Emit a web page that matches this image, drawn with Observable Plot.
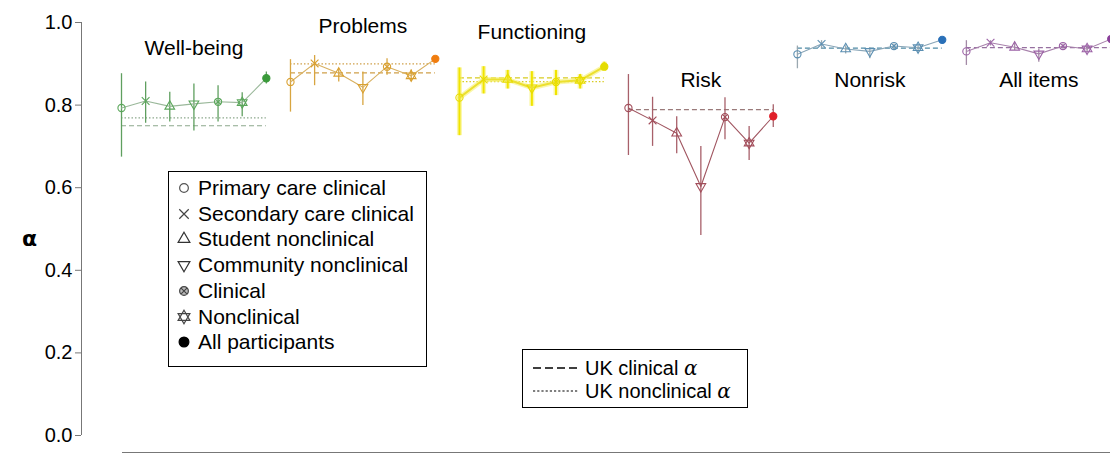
<!DOCTYPE html>
<html><head><meta charset="utf-8">
<script src="https://cdn.jsdelivr.net/npm/d3@7"></script>
<script src="https://cdn.jsdelivr.net/npm/@observablehq/plot@0.6"></script>
<style>
body{margin:0;background:#fff;font-family:"Liberation Sans",Arial,sans-serif;}
#wrap{position:relative;width:1110px;height:454px;overflow:hidden;background:#fff;}
#wrap svg{display:block;}
[aria-label="y-axis tick"]{stroke:#777;}
.leg{position:absolute;border:1px solid #000;background:#fff;box-sizing:border-box;color:#000;}
.row{display:flex;align-items:center;white-space:nowrap;}
#ylab{position:absolute;left:22px;top:226px;font-size:22px;font-weight:bold;font-family:"DejaVu Sans",sans-serif;}
#bottomline{position:absolute;left:122px;right:0;top:452px;border-top:1px solid #777;}
</style></head>
<body><div id="wrap"></div>
<script>
// ---------- data ----------
const panels = ["Well-being","Problems","Functioning","Risk","Nonrisk","All items"];
const groups = ["Primary care clinical","Secondary care clinical","Student nonclinical","Community nonclinical","Clinical","Nonclinical","All participants"];
const estimate = [
  [0.793,0.810,0.797,0.803,0.808,0.806,0.865],
  [0.856,0.901,0.877,0.843,0.893,0.871,0.912],
  [0.818,0.862,0.862,0.842,0.856,0.860,0.893],
  [0.793,0.763,0.732,0.603,0.771,0.708,0.773],
  [0.923,0.948,0.936,0.930,0.943,0.939,0.958],
  [0.930,0.951,0.940,0.924,0.943,0.936,0.960]
];
const lower = [
  [0.674,0.756,0.759,0.737,0.759,0.772,0.851],
  [0.783,0.847,0.856,0.799,0.872,0.858,0.907],
  [0.726,0.827,0.839,0.797,0.823,0.839,0.884],
  [0.678,0.700,0.682,0.484,0.716,0.666,0.746],
  [0.888,0.936,0.924,0.912,0.932,0.928,0.953],
  [0.896,0.943,0.932,0.904,0.936,0.927,0.957]
];
const upper = [
  [0.876,0.856,0.831,0.851,0.847,0.830,0.880],
  [0.910,0.920,0.888,0.880,0.912,0.885,0.917],
  [0.890,0.893,0.884,0.881,0.884,0.874,0.904],
  [0.874,0.819,0.772,0.700,0.818,0.748,0.801],
  [0.943,0.956,0.944,0.939,0.948,0.944,0.963],
  [0.956,0.956,0.952,0.936,0.948,0.944,0.964]
];
const ukClinical = [0.750,0.878,0.866,0.789,0.938,0.939];
const ukNonclinical = [0.769,0.900,0.857,null,null,null];
const yTicks = [0,0.2,0.4,0.6,0.8,1.0];
const refLabels = ["UK clinical","UK nonclinical"];

// ---------- style ----------
const pointColor = ["#5aa65a","#d9a030","#e8dc00","#a24d5a","#5b8fb2","#9c62a6"];
const lineColor  = ["#9ab89a","#d8b060","#ece030","#a05560","#8aa6b8","#a882ac"];
const barColor   = ["#5f9f5f","#d8a540","#f0e400","#a8606a","#9aa8b0","#a38aa6"];
const allColor   = ["#3a9a3a","#f07d10","#e4dc00","#e0202a","#2a70b8","#8a3f9a"];
const refColor   = ["#8ca88c","#cfa04a","#d8cc20","#9a7a7a","#4f8aa5","#9670a0"];
const titleY = [0.937,0.990,0.976,0.860,0.860,0.860];

// custom symbols
const s3 = Math.sqrt(3);
const triDown = {draw(ctx,size){const y=-Math.sqrt(size/(s3*3));ctx.moveTo(0,-2*y);ctx.lineTo(-s3*y,y);ctx.lineTo(s3*y,y);ctx.closePath();}};
const hexagram = {draw(ctx,size){const y=-Math.sqrt(size/(s3*3));
  ctx.moveTo(0,2*y);ctx.lineTo(-s3*y,-y);ctx.lineTo(s3*y,-y);ctx.closePath();
  ctx.moveTo(0,-2*y);ctx.lineTo(-s3*y,y);ctx.lineTo(s3*y,y);ctx.closePath();}};
const circleX = {draw(ctx,size){const r=Math.sqrt(size/Math.PI);const k=r*0.72;
  ctx.moveTo(r,0);ctx.arc(0,0,r,0,2*Math.PI);
  ctx.moveTo(-k,-k);ctx.lineTo(k,k);ctx.moveTo(k,-k);ctx.lineTo(-k,k);}};
const symbols = [d3.symbolCircle, d3.symbolTimes, d3.symbolTriangle, triDown, circleX, hexagram, d3.symbolCircle];

// ---------- build rows ----------
const G = groups.length;
const rows = [];
panels.forEach((p,i)=>groups.forEach((g,j)=>rows.push({panel:p,pi:i,gi:j,pos:i*G+j,alpha:estimate[i][j],lo:lower[i][j],hi:upper[i][j]})));
const refClin = panels.map((p,i)=>({pi:i,v:ukClinical[i]})).filter(d=>d.v!=null);
const refNon = panels.map((p,i)=>({pi:i,v:ukNonclinical[i]})).filter(d=>d.v!=null);

const xDomain = [-1.657, panels.length*G - 1 - 0.03];
const func = rows.filter(d=>d.pi===2);

const marks = [
  Plot.ruleX([xDomain[0]], {y1:0, y2:1, stroke:"#777"}),
  Plot.axisY({ticks: yTicks, tickFormat: d3.format(".1f"), tickSize: 6, tickPadding: 3, fontSize: 20, label: null}),
  Plot.ruleY(refClin, {y:"v", x1:d=>d.pi*G, x2:d=>d.pi*G+G-1, stroke:d=>refColor[d.pi], strokeWidth:1.2, strokeDasharray:"5,3"}),
  Plot.ruleY(refNon, {y:"v", x1:d=>d.pi*G, x2:d=>d.pi*G+G-1, stroke:d=>refColor[d.pi], strokeWidth:1.2, strokeDasharray:"1.5,2"}),
  // glow for Functioning
  Plot.ruleX(func, {x:"pos", y1:"lo", y2:"hi", stroke:"#f6f070", strokeWidth:5, strokeOpacity:0.6}),
  Plot.line(func, {x:"pos", y:"alpha", stroke:"#f6f070", strokeWidth:5, strokeOpacity:0.6}),
  Plot.ruleX(rows, {x:"pos", y1:"lo", y2:"hi", stroke:d=>barColor[d.pi], strokeWidth:d=>d.pi===2?2:1.3}),
  Plot.line(rows, {x:"pos", y:"alpha", z:"panel", stroke:d=>lineColor[d.pi], strokeWidth:d=>d.pi===2?2:1.1}),
  ...groups.map((g,j)=>Plot.dot(rows.filter(d=>d.gi===j), {
    x:"pos", y:"alpha", symbol: symbols[j], r: j===6?3.6:3.6,
    stroke: d=> j===6 ? allColor[d.pi] : pointColor[d.pi],
    fill: d=> j===6 ? allColor[d.pi] : "none",
    strokeWidth: 1.1
  })),
  Plot.text(panels, {x:(d,i)=>i*G+3, y:(d,i)=>titleY[i], text:d=>d, fontSize:21, fill:"black"})
];

const chart = Plot.plot({
  width: 1110, height: 454,
  marginLeft: 81, marginRight: 0, marginTop: 22, marginBottom: 19,
  x: {domain: xDomain, axis: null},
  y: {domain: [0,1], axis: null},
  color: {type: "identity"},
  style: {fontFamily: '"Liberation Sans", Arial, sans-serif', color: "black", background: "white", overflow: "hidden"},
  marks
});
const wrap = document.getElementById("wrap");
wrap.appendChild(chart);

// y label
const yl = document.createElement("div"); yl.id="ylab"; yl.textContent="α"; wrap.appendChild(yl);
const bl = document.createElement("div"); bl.id="bottomline"; wrap.appendChild(bl);

// legend 1 (groups)
const legColors = ["#555","#444","#333","#333","#444","#444","#000"];
const leg1 = document.createElement("div");
leg1.className="leg";
Object.assign(leg1.style,{left:"168px",top:"171px",width:"259px",height:"196px",paddingTop:"3px",fontSize:"21px"});
groups.forEach((g,j)=>{
  const row = document.createElement("div"); row.className="row";
  row.style.height="25.75px";
  const path = d3.symbol().type(symbols[j]).size(j===6?75:60)();
  const fill = (j===6) ? "#000" : (j===4 ? "#bbb" : "none");
  row.innerHTML = `<svg width="16" height="16" style="margin-left:7px;margin-right:6px;flex:none"><path transform="translate(8,8)" d="${path}" fill="${fill}" stroke="${legColors[j]}" stroke-width="1.2"/></svg><span>${g}</span>`;
  leg1.appendChild(row);
});
wrap.appendChild(leg1);

// legend 2 (reference lines)
const leg2 = document.createElement("div");
leg2.className="leg";
Object.assign(leg2.style,{left:"522px",top:"349px",width:"226px",height:"59px",paddingTop:"6px",fontSize:"20px"});
const dashes = ["8,4","2.2,2"];
const dcol = ["#000","#555"];
refLabels.forEach((t,k)=>{
  const row = document.createElement("div"); row.className="row"; row.style.height="23px";
  row.innerHTML = `<svg width="46" height="10" style="margin-left:10px;margin-right:6px;flex:none"><line x1="0" x2="46" y1="5" y2="5" stroke="${dcol[k]}" stroke-width="1.6" stroke-dasharray="${dashes[k]}"/></svg><span>${t} <i style="font-family:'DejaVu Serif',serif">α</i></span>`;
  leg2.appendChild(row);
});
wrap.appendChild(leg2);
</script>
</body></html>
